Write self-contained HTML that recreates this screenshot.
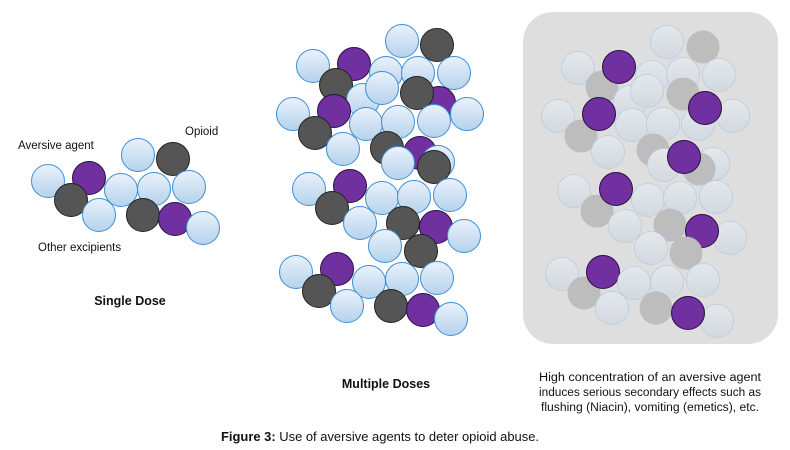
<!DOCTYPE html>
<html><head><meta charset="utf-8"><style>
html,body{margin:0;padding:0;background:#fff;}
svg{display:block;}
text{font-family:"Liberation Sans",sans-serif;fill:#111;}
</style></head><body>
<svg width="790" height="450" viewBox="0 0 790 450" xmlns="http://www.w3.org/2000/svg">
<defs>
<linearGradient id="lb" x1="0" y1="0" x2="0" y2="1">
<stop offset="0" stop-color="#eaf2fb"/><stop offset="1" stop-color="#b5d2ec"/></linearGradient>
<linearGradient id="lg" x1="0" y1="0" x2="0" y2="1">
<stop offset="0" stop-color="#e4e8ec"/><stop offset="1" stop-color="#d2d9df"/></linearGradient>
<g id="L"><circle r="16.5" fill="url(#lb)" stroke="#3d8fd4" stroke-width="1"/></g>
<g id="D"><circle r="16.5" fill="#555" stroke="#222" stroke-width="1"/></g>
<g id="P"><circle r="16.5" fill="#7030a0" stroke="#2a1040" stroke-width="1"/></g>
<g id="l"><circle r="16.5" fill="url(#lg)" stroke="#b8cde0" stroke-width="0.8"/></g>
<g id="g"><circle r="16.5" fill="#bdbdbd"/></g>
</defs>

<!-- Single dose -->
<use href="#L" x="48" y="181"/><use href="#P" x="89" y="178"/><use href="#D" x="71" y="200"/><use href="#L" x="99" y="215"/>
<use href="#L" x="138" y="155"/><use href="#D" x="173" y="159"/><use href="#L" x="121" y="190"/><use href="#L" x="154" y="189"/><use href="#L" x="189" y="187"/>
<use href="#D" x="143" y="215"/><use href="#P" x="175" y="219"/><use href="#L" x="203" y="228"/>
<text x="18" y="149" font-size="11.5">Aversive agent</text>
<text x="185" y="135" font-size="11.5">Opioid</text>
<text x="38" y="251" font-size="11.5">Other excipients</text>
<text x="130" y="305" font-size="12.5" font-weight="bold" text-anchor="middle">Single Dose</text>

<!-- Multiple doses -->
<use href="#L" x="402" y="41"/><use href="#D" x="437" y="45"/>
<use href="#L" x="313" y="66"/><use href="#P" x="354" y="64"/><use href="#D" x="336" y="85"/>
<use href="#L" x="386" y="73"/><use href="#L" x="418" y="73"/><use href="#L" x="454" y="73"/>
<use href="#L" x="363" y="100"/><use href="#L" x="382" y="88"/><use href="#P" x="439" y="103"/><use href="#D" x="417" y="93"/>
<use href="#L" x="293" y="114"/><use href="#P" x="334" y="111"/><use href="#D" x="315" y="133"/>
<use href="#L" x="366" y="124"/><use href="#L" x="398" y="122"/><use href="#L" x="434" y="121"/><use href="#L" x="467" y="114"/>
<use href="#L" x="343" y="149"/><use href="#D" x="387" y="148"/><use href="#P" x="420" y="153"/><use href="#L" x="438" y="162"/><use href="#L" x="398" y="163"/><use href="#D" x="434" y="167"/>
<use href="#L" x="309" y="189"/><use href="#P" x="350" y="186"/><use href="#D" x="332" y="208"/><use href="#L" x="360" y="223"/>
<use href="#L" x="382" y="198"/><use href="#L" x="414" y="197"/><use href="#L" x="450" y="195"/>
<use href="#D" x="403" y="223"/><use href="#P" x="436" y="227"/><use href="#L" x="464" y="236"/>
<use href="#L" x="385" y="246"/><use href="#D" x="421" y="251"/>
<use href="#L" x="296" y="272"/><use href="#P" x="337" y="269"/><use href="#D" x="319" y="291"/>
<use href="#L" x="369" y="282"/><use href="#L" x="402" y="279"/><use href="#L" x="437" y="278"/>
<use href="#L" x="347" y="306"/><use href="#D" x="391" y="306"/><use href="#P" x="423" y="310"/><use href="#L" x="451" y="319"/>
<text x="386" y="388" font-size="12.5" font-weight="bold" text-anchor="middle">Multiple Doses</text>

<!-- High concentration panel -->
<rect x="523" y="12" width="255" height="332" rx="30" fill="#dedede"/>
<use href="#l" x="667" y="42"/><use href="#g" x="703" y="47"/>
<use href="#l" x="578" y="68"/><use href="#g" x="602" y="87"/><use href="#P" x="619" y="67"/>
<use href="#l" x="652" y="77"/><use href="#l" x="683" y="74"/><use href="#l" x="719" y="75"/>
<use href="#l" x="630" y="102"/><use href="#l" x="647" y="91"/><use href="#g" x="683" y="94"/>
<use href="#l" x="558" y="116"/><use href="#g" x="581" y="136"/><use href="#P" x="599" y="114"/>
<use href="#l" x="632" y="125"/><use href="#l" x="663" y="124"/><use href="#l" x="698" y="124"/><use href="#l" x="733" y="116"/><use href="#P" x="705" y="108"/>
<use href="#l" x="608" y="152"/><use href="#g" x="653" y="150"/><use href="#l" x="664" y="165"/><use href="#l" x="713" y="164"/><use href="#g" x="699" y="169"/><use href="#P" x="684" y="157"/>
<use href="#l" x="574" y="191"/><use href="#g" x="597" y="211"/><use href="#P" x="616" y="189"/>
<use href="#l" x="648" y="200"/><use href="#l" x="680" y="198"/><use href="#l" x="716" y="197"/>
<use href="#l" x="625" y="226"/><use href="#g" x="670" y="225"/><use href="#l" x="730" y="238"/><use href="#P" x="702" y="231"/>
<use href="#l" x="651" y="248"/><use href="#g" x="686" y="253"/>
<use href="#l" x="562" y="274"/><use href="#g" x="584" y="293"/><use href="#P" x="603" y="272"/>
<use href="#l" x="634" y="283"/><use href="#l" x="667" y="282"/><use href="#l" x="703" y="280"/>
<use href="#l" x="612" y="308"/><use href="#g" x="656" y="308"/><use href="#l" x="717" y="321"/><use href="#P" x="688" y="313"/>

<text x="650" y="381" font-size="11.5" text-anchor="middle" textLength="222" lengthAdjust="spacingAndGlyphs">High concentration of an aversive agent</text>
<text x="650" y="396" font-size="11.5" text-anchor="middle" textLength="222" lengthAdjust="spacingAndGlyphs">induces serious secondary effects such as</text>
<text x="650" y="411" font-size="11.5" text-anchor="middle" textLength="218" lengthAdjust="spacingAndGlyphs">flushing (Niacin), vomiting (emetics), etc.</text>

<text x="380" y="441" font-size="12.5" text-anchor="middle" textLength="318" lengthAdjust="spacingAndGlyphs"><tspan font-weight="bold">Figure 3:</tspan> Use of aversive agents to deter opioid abuse.</text>
</svg>
</body></html>
